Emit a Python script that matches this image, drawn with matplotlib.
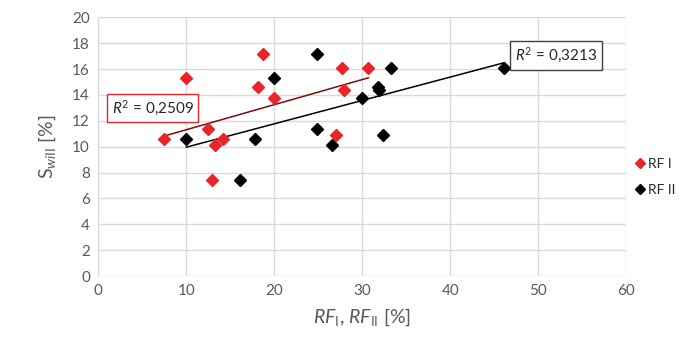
import numpy as np
import matplotlib
matplotlib.use("Agg")
import matplotlib.pyplot as plt

plt.rcParams['font.family'] = ['Lato', 'DejaVu Sans']
plt.rcParams['mathtext.fontset'] = 'custom'
plt.rcParams['mathtext.rm'] = 'Lato'
plt.rcParams['mathtext.it'] = 'Lato:italic'

# RF I series
rf1_x = [7.5, 10.0, 12.9, 12.5, 13.3, 14.2, 18.2, 18.7, 20.0, 27.7, 27.95, 27.0, 30.7]
rf1_y = [10.6, 15.3, 7.4, 11.4, 10.1, 10.6, 14.6, 17.2, 13.8, 16.1, 14.4, 10.9, 16.1]
# RF II series
rf2_x = [10.0, 16.1, 17.8, 20.0, 24.9, 24.9, 26.6, 30.0, 31.8, 31.9, 32.4, 33.3, 46.1]
rf2_y = [10.6, 7.4, 10.6, 15.3, 17.2, 11.4, 10.1, 13.8, 14.6, 14.4, 10.9, 16.1, 16.1]

series_labels = ['RF I', 'RF II']
r2_labels = ['0,2509', '0,3213']
x_ticks = [0, 10, 20, 30, 40, 50, 60]
y_ticks = [0, 2, 4, 6, 8, 10, 12, 14, 16, 18, 20]

red = '#e8262a'
black = '#000000'
grid_c = '#d9d9d9'
text_c = '#595959'

fig = plt.figure(figsize=(6.86, 3.47), dpi=100)
ax = fig.add_axes([0.1433, 0.2046, 0.913 - 0.1433, 0.950 - 0.2046])

ax.set_xlim(0, 60)
ax.set_ylim(0, 20)
ax.set_xticks(x_ticks)
ax.set_yticks(y_ticks)
ax.grid(True, color=grid_c, linewidth=1.0)
ax.set_axisbelow(True)
for s in ax.spines.values():
    s.set_visible(False)
ax.spines['left'].set_visible(True)
ax.spines['left'].set_color(grid_c)
ax.tick_params(length=0, labelsize=11, colors=text_c, pad=6)

# trendlines
for xs, ys, c in [(rf1_x, rf1_y, '#7a0c0c'), (rf2_x, rf2_y, black)]:
    k, b = np.polyfit(xs, ys, 1)
    xx = np.array([min(xs), max(xs)])
    ax.plot(xx, k * xx + b, color=c, linewidth=1.1, zorder=2)

ax.plot(rf1_x, rf1_y, linestyle='none', marker='D', markersize=6.5, color=red,
        label=series_labels[0], zorder=3)
ax.plot(rf2_x, rf2_y, linestyle='none', marker='D', markersize=6.5, color=black,
        label=series_labels[1], zorder=3)

ax.text(6.2, 12.97, r'$R^2$ = ' + r2_labels[0], ha='center', va='center', fontsize=11,
        color='#262626',
        bbox=dict(boxstyle='square,pad=0.3', facecolor='white', edgecolor=red, linewidth=1))
ax.text(52.0, 17.04, r'$R^2$ = ' + r2_labels[1], ha='center', va='center', fontsize=11,
        color='#262626',
        bbox=dict(boxstyle='square,pad=0.3', facecolor='white', edgecolor='#404040', linewidth=1))

ax.set_xlabel(r'$RF_{\mathrm{I}}$, $RF_{\mathrm{II}}$ [%]', fontsize=14, color=text_c, labelpad=6)
ax.set_ylabel(r'S$_{wi\mathrm{II}}$ [%]', fontsize=14, color=text_c, labelpad=10)

fig.legend(loc='center left', bbox_to_anchor=(0.925, 0.49), frameon=False,
           fontsize=10, handletextpad=0.2, labelspacing=1.0, handlelength=0.8,
           borderpad=0, borderaxespad=0, labelcolor='#262626', markerscale=0.75)

fig.savefig('out.png', dpi=100)
